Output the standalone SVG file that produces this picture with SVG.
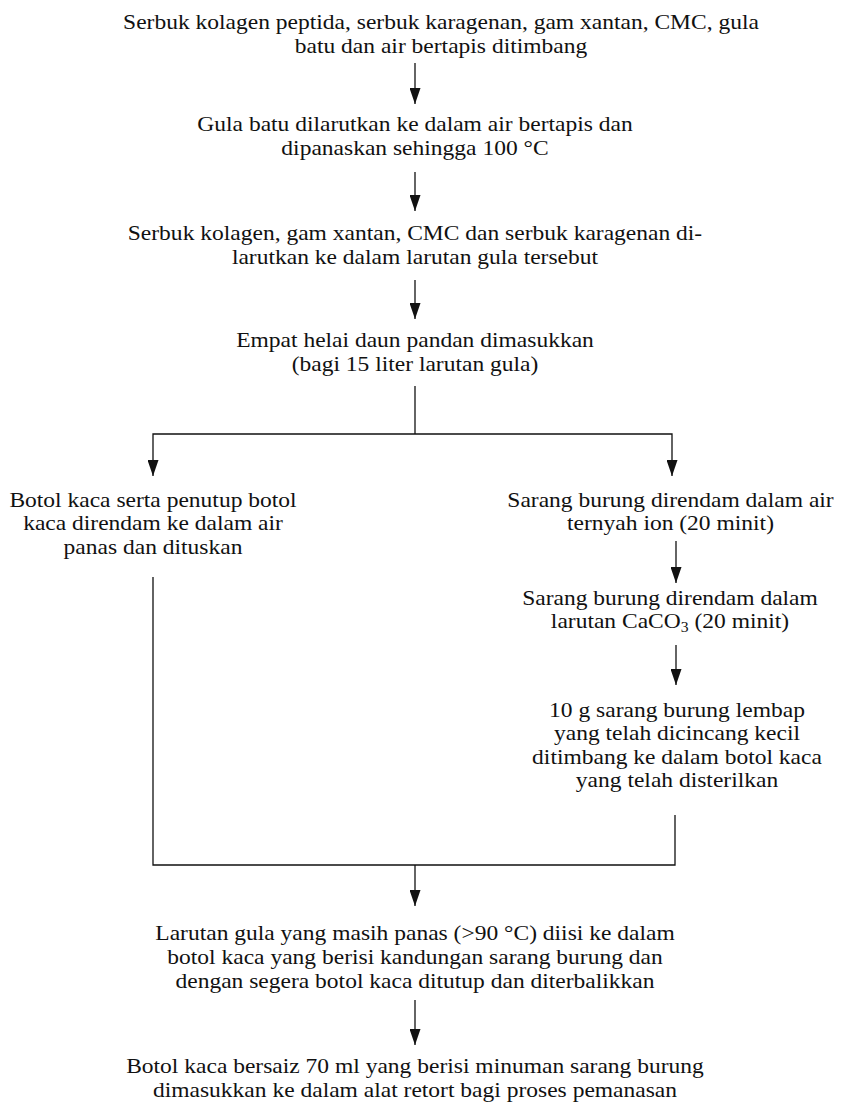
<svg xmlns="http://www.w3.org/2000/svg" width="844" height="1108" viewBox="0 0 844 1108">
<style>
text{font-family:"Liberation Serif","Times New Roman",serif;font-size:21px;fill:#111;text-anchor:middle}
.c{fill:none;stroke:#111;stroke-width:1.3}
.s{font-size:14px}
</style>
<defs>
<marker id="ah" viewBox="0 0 16 11" refX="16" refY="5.5" markerWidth="16" markerHeight="11" markerUnits="userSpaceOnUse" orient="auto">
<path d="M0,0 L16,5.5 L0,11 z" fill="#111"/>
</marker>
</defs>
<rect width="844" height="1108" fill="#fff"/>
<g id="connectors">
<path class="c" d="M415,63 V104" marker-end="url(#ah)"/>
<path class="c" d="M415,172 V211" marker-end="url(#ah)"/>
<path class="c" d="M415,280 V319" marker-end="url(#ah)"/>
<path class="c" d="M415,386 V434"/>
<path class="c" d="M415,434 H153 V476" marker-end="url(#ah)"/>
<path class="c" d="M415,434 H672 V476" marker-end="url(#ah)"/>
<path class="c" d="M676,541 V583" marker-end="url(#ah)"/>
<path class="c" d="M676,645 V685" marker-end="url(#ah)"/>
<path class="c" d="M153,577 V865 H675 V815"/>
<path class="c" d="M415,865 V906" marker-end="url(#ah)"/>
<path class="c" d="M415,1000 V1045" marker-end="url(#ah)"/>
</g>
<g id="n1" transform="matrix(1.12,0,0,1,-52.92,0)">
<text x="441" y="29.5">Serbuk kolagen peptida, serbuk karagenan, gam xantan, CMC, gula</text>
<text x="441" y="53">batu dan air bertapis ditimbang</text>
</g>
<g id="n2" transform="matrix(1.12,0,0,1,-49.8,0)">
<text x="415" y="131">Gula batu dilarutkan ke dalam air bertapis dan</text>
<text x="415" y="155">dipanaskan sehingga 100 °C</text>
</g>
<g id="n3" transform="matrix(1.12,0,0,1,-49.8,0)">
<text x="415" y="240">Serbuk kolagen, gam xantan, CMC dan serbuk karagenan di-</text>
<text x="415" y="264">larutkan ke dalam larutan gula tersebut</text>
</g>
<g id="n4" transform="matrix(1.12,0,0,1,-49.8,0)">
<text x="415" y="347">Empat helai daun pandan dimasukkan</text>
<text x="415" y="371">(bagi 15 liter larutan gula)</text>
</g>
<g id="n5" transform="matrix(1.12,0,0,1,-18.36,0)">
<text x="153" y="507">Botol kaca serta penutup botol</text>
<text x="153" y="530.5">kaca direndam ke dalam air</text>
<text x="153" y="554">panas dan dituskan</text>
</g>
<g id="n6" transform="matrix(1.12,0,0,1,-80.46,0)">
<text x="670.5" y="507">Sarang burung direndam dalam air</text>
<text x="670.5" y="530.5">ternyah ion (20 minit)</text>
</g>
<g id="n7" transform="matrix(1.12,0,0,1,-80.4,0)">
<text x="670" y="605">Sarang burung direndam dalam</text>
<text x="670" y="628">larutan CaCO<tspan class="s" dy="4">3</tspan><tspan dy="-4"> (20 minit)</tspan></text>
</g>
<g id="n8" transform="matrix(1.12,0,0,1,-81.24,0)">
<text x="677" y="717">10 g sarang burung lembap</text>
<text x="677" y="740.5">yang telah dicincang kecil</text>
<text x="677" y="764">ditimbang ke dalam botol kaca</text>
<text x="677" y="787.5">yang telah disterilkan</text>
</g>
<g id="n9" transform="matrix(1.12,0,0,1,-49.8,0)">
<text x="415" y="940">Larutan gula yang masih panas (&gt;90 °C) diisi ke dalam</text>
<text x="415" y="964">botol kaca yang berisi kandungan sarang burung dan</text>
<text x="415" y="988">dengan segera botol kaca ditutup dan diterbalikkan</text>
</g>
<g id="n10" transform="matrix(1.12,0,0,1,-49.8,0)">
<text x="415" y="1073">Botol kaca bersaiz 70 ml yang berisi minuman sarang burung</text>
<text x="415" y="1097">dimasukkan ke dalam alat retort bagi proses pemanasan</text>
</g>
</svg>
